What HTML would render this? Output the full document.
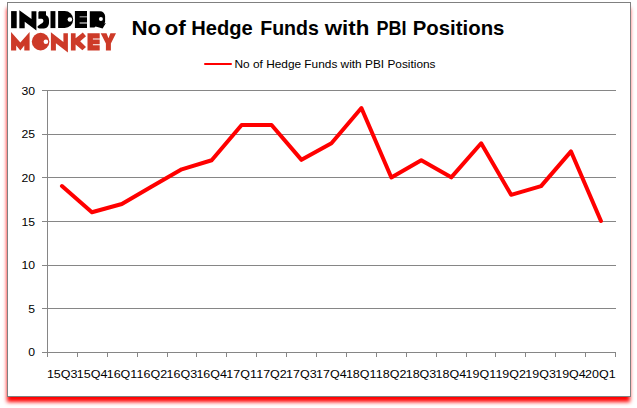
<!DOCTYPE html>
<html><head><meta charset="utf-8">
<style>
html,body{margin:0;padding:0;background:#fff;width:637px;height:408px;overflow:hidden;}
.box{position:absolute;left:7px;top:2px;width:622px;height:393px;border:1px solid #808080;box-shadow:-0.5px 5px 4px -0.5px #f00;background:#fff;}
svg{position:absolute;left:0;top:0;}
text{font-family:"Liberation Sans",sans-serif;}
</style></head><body>
<div class="box"></div>
<svg width="637" height="408" viewBox="0 0 637 408">
<g stroke="#868686" stroke-width="1" shape-rendering="crispEdges" fill="none">
<path d="M42 352.5H616"/><path d="M42 308.5H616"/><path d="M42 265.5H616"/><path d="M42 221.5H616"/><path d="M42 177.5H616"/><path d="M42 134.5H616"/><path d="M42 90.5H616"/>
<path d="M47.5 90V352"/>
<path d="M47.5 352V357"/><path d="M77.5 352V357"/><path d="M107.5 352V357"/><path d="M137.5 352V357"/><path d="M167.5 352V357"/><path d="M196.5 352V357"/><path d="M226.5 352V357"/><path d="M256.5 352V357"/><path d="M286.5 352V357"/><path d="M316.5 352V357"/><path d="M346.5 352V357"/><path d="M376.5 352V357"/><path d="M406.5 352V357"/><path d="M436.5 352V357"/><path d="M466.5 352V357"/><path d="M495.5 352V357"/><path d="M525.5 352V357"/><path d="M555.5 352V357"/><path d="M585.5 352V357"/><path d="M615.5 352V357"/>
</g>
<g font-size="11.5" fill="#000">
<text x="35" y="356" text-anchor="end" textLength="6.8" lengthAdjust="spacingAndGlyphs">0</text><text x="35" y="313" text-anchor="end" textLength="6.8" lengthAdjust="spacingAndGlyphs">5</text><text x="35" y="269" text-anchor="end" textLength="13.6" lengthAdjust="spacingAndGlyphs">10</text><text x="35" y="226" text-anchor="end" textLength="13.6" lengthAdjust="spacingAndGlyphs">15</text><text x="35" y="182" text-anchor="end" textLength="13.6" lengthAdjust="spacingAndGlyphs">20</text><text x="35" y="138" text-anchor="end" textLength="13.6" lengthAdjust="spacingAndGlyphs">25</text><text x="35" y="95" text-anchor="end" textLength="13.6" lengthAdjust="spacingAndGlyphs">30</text>
</g>
<g font-size="11.5" fill="#000" text-anchor="middle">
<text x="62.2" y="378" textLength="30.6" lengthAdjust="spacingAndGlyphs">15Q3</text><text x="92.1" y="378" textLength="30.6" lengthAdjust="spacingAndGlyphs">15Q4</text><text x="122.0" y="378" textLength="30.6" lengthAdjust="spacingAndGlyphs">16Q1</text><text x="151.9" y="378" textLength="30.6" lengthAdjust="spacingAndGlyphs">16Q2</text><text x="181.8" y="378" textLength="30.6" lengthAdjust="spacingAndGlyphs">16Q3</text><text x="211.7" y="378" textLength="30.6" lengthAdjust="spacingAndGlyphs">16Q4</text><text x="241.6" y="378" textLength="30.6" lengthAdjust="spacingAndGlyphs">17Q1</text><text x="271.5" y="378" textLength="30.6" lengthAdjust="spacingAndGlyphs">17Q2</text><text x="301.4" y="378" textLength="30.6" lengthAdjust="spacingAndGlyphs">17Q3</text><text x="331.3" y="378" textLength="30.6" lengthAdjust="spacingAndGlyphs">17Q4</text><text x="361.2" y="378" textLength="30.6" lengthAdjust="spacingAndGlyphs">18Q1</text><text x="391.1" y="378" textLength="30.6" lengthAdjust="spacingAndGlyphs">18Q2</text><text x="421.0" y="378" textLength="30.6" lengthAdjust="spacingAndGlyphs">18Q3</text><text x="450.9" y="378" textLength="30.6" lengthAdjust="spacingAndGlyphs">18Q4</text><text x="480.8" y="378" textLength="30.6" lengthAdjust="spacingAndGlyphs">19Q1</text><text x="510.7" y="378" textLength="30.6" lengthAdjust="spacingAndGlyphs">19Q2</text><text x="540.6" y="378" textLength="30.6" lengthAdjust="spacingAndGlyphs">19Q3</text><text x="570.5" y="378" textLength="30.6" lengthAdjust="spacingAndGlyphs">19Q4</text><text x="600.4" y="378" textLength="30.6" lengthAdjust="spacingAndGlyphs">20Q1</text>
</g>
<polyline points="61.95,186.07 91.90,212.27 121.84,204.03 151.79,186.57 181.73,169.30 211.68,160.27 241.62,124.93 271.56,124.93 301.51,159.87 331.45,143.30 361.40,108.07 391.34,177.53 421.29,160.27 451.24,177.33 481.18,143.30 511.12,194.80 541.07,186.07 571.01,151.43 600.96,221.00" fill="none" stroke="#f00" stroke-width="4" stroke-linejoin="round" stroke-linecap="round"/>
<g fill="#000">
<rect x="11.1" y="11.1" width="5.6" height="17.1"/>
<path d="M19.35 10.35L31.5 18.9V11.2H36.4V30.5L24.7 21.7V28.2H19.35Z"/>
<path d="M39.8 11.2H46V15.2C47.9 15.9 49 17.6 49 20V22.5C49 25.8 47 28.4 44 28.4H39.5C38.4 28.4 37.6 27.8 37.5 27C37.5 26.5 37.8 26.1 38.2 25.8L41 23.8C42.6 22.8 43.4 22 43.4 20.9C43.4 19.5 42.6 18.7 41.6 18.7H38.4V12.6C38.4 11.8 39 11.2 39.8 11.2Z"/>
<rect x="50.5" y="11.1" width="4.9" height="17"/>
<path d="M58.1 11.1H64.7A8.5 8.5 0 0 1 64.7 28.1H58.1Z"/>
<path d="M74.9 11.1H87V16.55H79.6V17.35H87V22.6H79.6V23.4H87V28H74.9Z"/>
<path d="M89.8 11.2H100A5 5 0 0 1 105.1 16.2V22.3L104.2 23.4L105.9 23.1L102.6 28.5L95.6 26.6L94.4 27.6H89.8Z"/>
</g>
<g fill="#fff"><circle cx="69.9" cy="19.5" r="2.3"/><circle cx="100.9" cy="19.1" r="2"/></g>
<g fill="#cd3a28">
<path d="M11.06 32.1L20.35 42.6L29.6 32.1V50.4H24.3V45.6L20.35 50.4L16.2 45.6V50.4H11.06Z"/>
<circle cx="40.6" cy="41.6" r="8.8"/>
<path d="M50.9 32.3L63.4 41.9V33.2H67.9V52.4L55.9 43.2V50.4H50.9Z"/>
<path d="M70.9 33.2H75.6V38.3L82.8 32.5L86 36.2L80.2 41.3L86 46.9L82.4 50.3L75.6 44.5V50.4H70.9Z"/>
<path d="M87.5 33.2H99.7V38.5H92.9V39.5H99.7V44.3H92.9V45.3H99.7V50.4H87.5Z"/>
<path d="M100.7 33.2H106.5L108.5 38.2L110.4 33.2H116L110.9 43.5V50.5H105.9V43.5Z"/>
</g>
<circle cx="45.9" cy="41.8" r="2.3" fill="#fff"/>
<g font-size="21" font-weight="bold" fill="#000"><text x="131.6" y="35" textLength="29.5" lengthAdjust="spacingAndGlyphs">No</text><text x="164.5" y="35" textLength="21.3" lengthAdjust="spacingAndGlyphs">of</text><text x="191.3" y="35" textLength="61.5" lengthAdjust="spacingAndGlyphs">Hedge</text><text x="260.2" y="35" textLength="58.7" lengthAdjust="spacingAndGlyphs">Funds</text><text x="324.7" y="35" textLength="44.6" lengthAdjust="spacingAndGlyphs">with</text><text x="376.4" y="35" textLength="30.0" lengthAdjust="spacingAndGlyphs">PBI</text><text x="412.8" y="35" textLength="91.6" lengthAdjust="spacingAndGlyphs">Positions</text></g>
<path d="M205 64H231" stroke="#f00" stroke-width="2" stroke-linecap="round"/>
<text x="234.5" y="68" font-size="11.5" fill="#000" textLength="201" lengthAdjust="spacingAndGlyphs">No of Hedge Funds with PBI Positions</text>
</svg>
</body></html>
